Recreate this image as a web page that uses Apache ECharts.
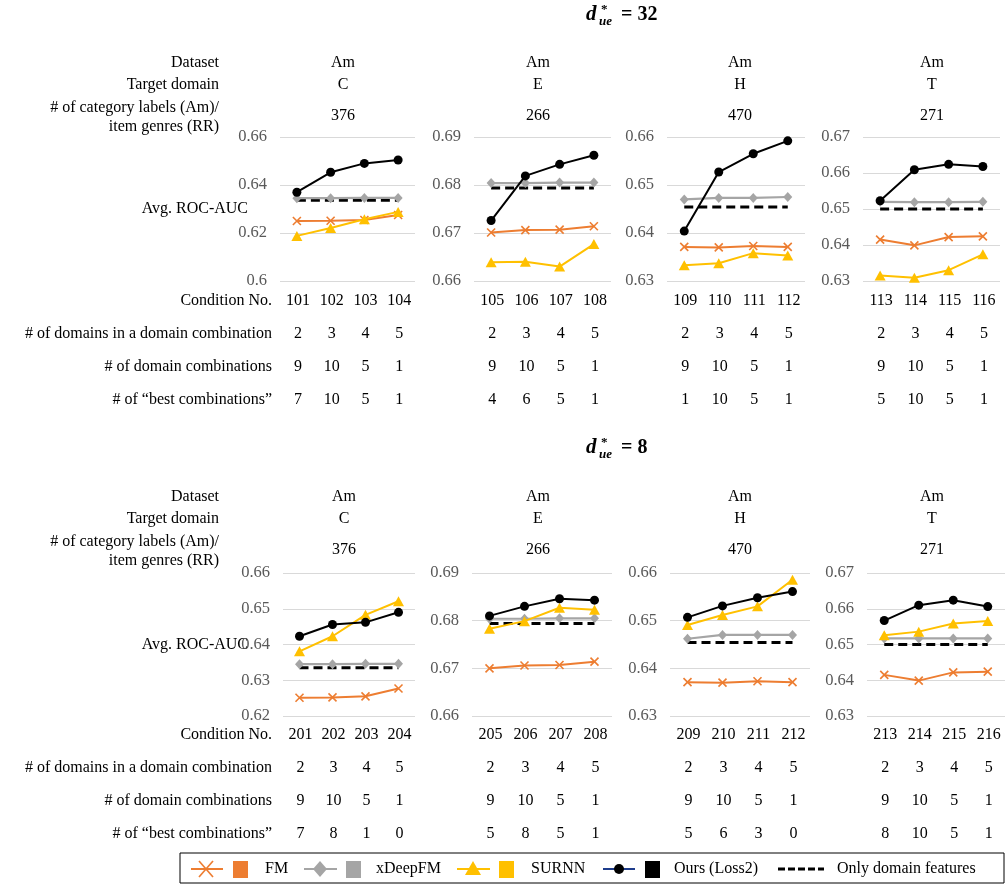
<!DOCTYPE html>
<html>
<head>
<meta charset="utf-8">
<script src="https://cdn.jsdelivr.net/npm/echarts@6/dist/echarts.min.js"></script>
<style>
  html, body { margin: 0; padding: 0; background: #fff; }
  #chart { width: 1007px; height: 886px; }
</style>
</head>
<body>
<div id="chart"></div>
<script>
// ---- data: two blocks (d*_ue = 32 on top, d*_ue = 8 below), four target domains each ----
const dueValues = ['32', '8'];
const datasets = ['Am', 'Am', 'Am', 'Am'];
const targetDomains = ['C', 'E', 'H', 'T'];
const categoryCounts = ['376', '266', '470', '271'];

const conditionTop = [['101','102','103','104'], ['105','106','107','108'], ['109','110','111','112'], ['113','114','115','116']];
const conditionBot = [['201','202','203','204'], ['205','206','207','208'], ['209','210','211','212'], ['213','214','215','216']];
const domainsInCombo = ['2', '3', '4', '5'];
const comboCounts = ['9', '10', '5', '1'];
const bestTop = [['7','10','5','1'], ['4','6','5','1'], ['1','10','5','1'], ['5','10','5','1']];
const bestBot = [['7','8','1','0'], ['5','8','5','1'], ['5','6','3','0'], ['8','10','5','1']];

// y-axis ranges per panel: [min, max, interval]
const rangesTop = [[0.60, 0.66, 0.02], [0.66, 0.69, 0.01], [0.63, 0.66, 0.01], [0.63, 0.67, 0.01]];
const rangesBot = [[0.62, 0.66, 0.01], [0.66, 0.69, 0.01], [0.63, 0.66, 0.01], [0.63, 0.67, 0.01]];

// Avg. ROC-AUC per method
const fmTop   = [[0.6250, 0.6251, 0.6254, 0.6275], [0.6701, 0.6706, 0.6707, 0.6714], [0.6371, 0.6370, 0.6373, 0.6371], [0.6415, 0.6399, 0.6422, 0.6424]];
const xdfmTop = [[0.6345, 0.6345, 0.6346, 0.6346], [0.6804, 0.6804, 0.6805, 0.6805], [0.6470, 0.6473, 0.6473, 0.6475], [0.6520, 0.6519, 0.6519, 0.6520]];
const surnnTop= [[0.6188, 0.6221, 0.6257, 0.6288], [0.6639, 0.6640, 0.6630, 0.6677], [0.6333, 0.6337, 0.6358, 0.6353], [0.6315, 0.6309, 0.6330, 0.6374]];
const oursTop = [[0.6370, 0.6453, 0.6490, 0.6504], [0.6726, 0.6819, 0.6843, 0.6862], [0.6404, 0.6527, 0.6565, 0.6592], [0.6523, 0.6609, 0.6624, 0.6618]];
const domOnlyTop = [0.6336, 0.6794, 0.6454, 0.6500];

const fmBot   = [[0.6251, 0.6252, 0.6255, 0.6277], [0.6700, 0.6706, 0.6707, 0.6714], [0.6371, 0.6370, 0.6373, 0.6371], [0.6415, 0.6399, 0.6422, 0.6424]];
const xdfmBot = [[0.6345, 0.6345, 0.6346, 0.6346], [0.6804, 0.6804, 0.6805, 0.6805], [0.6462, 0.6470, 0.6470, 0.6470], [0.6517, 0.6517, 0.6517, 0.6517]];
const surnnBot= [[0.6381, 0.6423, 0.6483, 0.6521], [0.6783, 0.6799, 0.6827, 0.6823], [0.6491, 0.6512, 0.6530, 0.6586], [0.6526, 0.6536, 0.6559, 0.6566]];
const oursBot = [[0.6423, 0.6456, 0.6462, 0.6490], [0.6810, 0.6830, 0.6846, 0.6843], [0.6507, 0.6531, 0.6548, 0.6561], [0.6567, 0.6610, 0.6624, 0.6606]];
const domOnlyBot = [0.6335, 0.6794, 0.6454, 0.6500];

const rowLabelsHead = ['Dataset', 'Target domain'];
const rowLabelCat = ['# of category labels (Am)/', 'item genres (RR)'];
const rowLabelAuc = 'Avg. ROC-AUC';
const rowLabelsTable = ['Condition No.', '# of domains in a domain combination', '# of domain combinations', '# of \u201cbest combinations\u201d'];
const legendNames = ['FM', 'xDeepFM', 'SURNN', 'Ours (Loss2)', 'Only domain features'];

// ---- styling ----
const SERIF = '"Liberation Serif", "Times New Roman", serif';
const C_FM = '#ED7D31', C_XD = '#A5A5A5', C_SU = '#FFC000', C_OURS = '#000000';
const X_SYMBOL = 'path://M0,0L10,10M10,0L0,10';

const blocks = [
  { gridTop: 137, gridH: 144, lefts: [280, 474, 667, 863], widths: [135, 137, 138, 137],
    headX: [343, 538, 740, 932],
    titleY: 16, headY: [63, 85], catY: [108, 127], countY: 116, aucY: 209, tableY: [301, 334, 367, 400],
    cond: conditionTop, best: bestTop, ranges: rangesTop,
    fm: fmTop, xd: xdfmTop, su: surnnTop, ours: oursTop, dom: domOnlyTop },
  { gridTop: 573, gridH: 143, lefts: [283, 472, 670, 867], widths: [132, 140, 140, 138],
    headX: [344, 538, 740, 932],
    titleY: 449, headY: [497, 519], catY: [542, 561], countY: 550, aucY: 645, tableY: [735, 768, 801, 834],
    cond: conditionBot, best: bestBot, ranges: rangesBot,
    fm: fmBot, xd: xdfmBot, su: surnnBot, ours: oursBot, dom: domOnlyBot }
];

function txt(x, y, s, align, font, fill) {
  return {
    type: 'text', x: x, y: y, silent: true,
    style: { text: s, x: 0, y: 0, textAlign: align || 'center', textVerticalAlign: 'middle',
             font: font || ('16px ' + SERIF), fill: fill || '#000' }
  };
}

const grids = [], xAxes = [], yAxes = [], series = [], graphics = [];

blocks.forEach(function (b, r) {
  // block title d*_ue = N
  const tx = 586, ty = b.titleY;
  graphics.push(txt(tx, ty - 1, 'd', 'left', 'italic bold 21px ' + SERIF));
  graphics.push(txt(tx + 15, ty - 6, '*', 'left', 'bold 13px ' + SERIF));
  graphics.push(txt(tx + 13, ty + 6, 'ue', 'left', 'italic bold 13px ' + SERIF));
  graphics.push(txt(tx + 35, ty - 1, '= ' + dueValues[r], 'left', 'bold 20px ' + SERIF));

  // row labels
  graphics.push(txt(219, b.headY[0], rowLabelsHead[0], 'right'));
  graphics.push(txt(219, b.headY[1], rowLabelsHead[1], 'right'));
  graphics.push(txt(219, b.catY[0], rowLabelCat[0], 'right'));
  graphics.push(txt(219, b.catY[1], rowLabelCat[1], 'right'));
  graphics.push(txt(248, b.aucY, rowLabelAuc, 'right'));
  rowLabelsTable.forEach(function (s, k) { graphics.push(txt(272, b.tableY[k], s, 'right')); });

  for (let c = 0; c < 4; c++) {
    const gi = r * 4 + c;
    const left = b.lefts[c], w = b.widths[c];
    grids.push({ left: left, top: b.gridTop, width: w, height: b.gridH, containLabel: false });
    xAxes.push({
      type: 'category', gridIndex: gi, data: b.cond[c], boundaryGap: true,
      axisLine: { show: false }, axisTick: { show: false }, axisLabel: { show: false }, splitLine: { show: false }
    });
    const rg = b.ranges[c];
    yAxes.push({
      type: 'value', gridIndex: gi, min: rg[0], max: rg[1], interval: rg[2],
      axisLine: { show: false }, axisTick: { show: false },
      splitLine: { lineStyle: { color: '#d9d9d9', width: 1 } },
      axisLabel: { color: '#595959', fontFamily: SERIF, fontSize: 16.5, margin: 13,
                   formatter: function (v) { return String(parseFloat(v.toFixed(2))); } }
    });

    const common = { xAxisIndex: gi, yAxisIndex: gi, type: 'line', silent: true, animation: false,
                     emphasis: { disabled: true } };
    series.push(Object.assign({}, common, {
      name: legendNames[4], data: b.dom.map(function () { return b.dom[c]; }), showSymbol: false, symbol: 'none',
      lineStyle: { color: '#000', width: 3, type: [9, 5] }, z: 2
    }));
    series.push(Object.assign({}, common, {
      name: legendNames[0], data: b.fm[c], symbol: X_SYMBOL, symbolSize: 8,
      lineStyle: { color: C_FM, width: 2 },
      itemStyle: { color: C_FM, borderColor: C_FM, borderWidth: 1.6 }, z: 3
    }));
    series.push(Object.assign({}, common, {
      name: legendNames[1], data: b.xd[c], symbol: 'diamond', symbolSize: [9, 10],
      lineStyle: { color: C_XD, width: 2.2 }, itemStyle: { color: C_XD }, z: 3
    }));
    series.push(Object.assign({}, common, {
      name: legendNames[2], data: b.su[c], symbol: 'triangle', symbolSize: [11, 10],
      lineStyle: { color: C_SU, width: 2 }, itemStyle: { color: C_SU }, z: 4
    }));
    series.push(Object.assign({}, common, {
      name: legendNames[3], data: b.ours[c], symbol: 'circle', symbolSize: 9,
      lineStyle: { color: C_OURS, width: 2 }, itemStyle: { color: C_OURS }, z: 5
    }));

    // header cells and table cells, centred on the panel / its categories
    const cx = b.headX[c];
    graphics.push(txt(cx, b.headY[0], datasets[c]));
    graphics.push(txt(cx, b.headY[1], targetDomains[c]));
    graphics.push(txt(cx, b.countY, categoryCounts[c]));
    const rowsVals = [b.cond[c], domainsInCombo, comboCounts, b.best[c]];
    rowsVals.forEach(function (vals, k) {
      vals.forEach(function (v, i) {
        const x = left + w * (i + 0.5) / 4 + 1;
        graphics.push(txt(x, b.tableY[k], v));
      });
    });
  }
});

// ---- legend box ----
const LY = 869;
const legendChildren = [
  { type: 'rect', shape: { x: 180, y: 853, width: 824, height: 30 }, style: { fill: 'none', stroke: '#000', lineWidth: 1 } },
  // FM
  { type: 'line', shape: { x1: 191, y1: LY, x2: 223, y2: LY }, style: { stroke: C_FM, lineWidth: 2 } },
  { type: 'line', shape: { x1: 199, y1: LY - 8, x2: 213, y2: LY + 8 }, style: { stroke: C_FM, lineWidth: 1.6 } },
  { type: 'line', shape: { x1: 213, y1: LY - 8, x2: 199, y2: LY + 8 }, style: { stroke: C_FM, lineWidth: 1.6 } },
  { type: 'rect', shape: { x: 233, y: LY - 8, width: 15, height: 17 }, style: { fill: C_FM } },
  // xDeepFM
  { type: 'line', shape: { x1: 304, y1: LY, x2: 337, y2: LY }, style: { stroke: C_XD, lineWidth: 2.2 } },
  { type: 'polygon', shape: { points: [[320, LY - 8], [327, LY], [320, LY + 8], [313, LY]] }, style: { fill: C_XD } },
  { type: 'rect', shape: { x: 346, y: LY - 8, width: 15, height: 17 }, style: { fill: C_XD } },
  // SURNN
  { type: 'line', shape: { x1: 457, y1: LY, x2: 490, y2: LY }, style: { stroke: C_SU, lineWidth: 2 } },
  { type: 'polygon', shape: { points: [[473, LY - 8], [481, LY + 6], [465, LY + 6]] }, style: { fill: C_SU } },
  { type: 'rect', shape: { x: 499, y: LY - 8, width: 15, height: 17 }, style: { fill: C_SU } },
  // Ours
  { type: 'line', shape: { x1: 603, y1: LY, x2: 635, y2: LY }, style: { stroke: '#1f3d8c', lineWidth: 2 } },
  { type: 'circle', shape: { cx: 619, cy: LY, r: 5 }, style: { fill: '#000' } },
  { type: 'rect', shape: { x: 645, y: LY - 8, width: 15, height: 17 }, style: { fill: '#000' } },
  // Only domain features
  { type: 'line', shape: { x1: 778, y1: LY, x2: 824, y2: LY }, style: { stroke: '#000', lineWidth: 3, lineDash: [7, 3] } }
];
legendChildren.forEach(function (e) { e.silent = true; graphics.push(e); });
graphics.push(txt(265, LY, legendNames[0], 'left'));
graphics.push(txt(376, LY, legendNames[1], 'left'));
graphics.push(txt(531, LY, legendNames[2], 'left'));
graphics.push(txt(674, LY, legendNames[3], 'left'));
graphics.push(txt(837, LY, legendNames[4], 'left'));

const chart = echarts.init(document.getElementById('chart'), null, { renderer: 'canvas' });
chart.setOption({
  backgroundColor: '#fff',
  animation: false,
  grid: grids,
  xAxis: xAxes,
  yAxis: yAxes,
  series: series,
  graphic: { elements: graphics }
});
</script>
</body>
</html>
